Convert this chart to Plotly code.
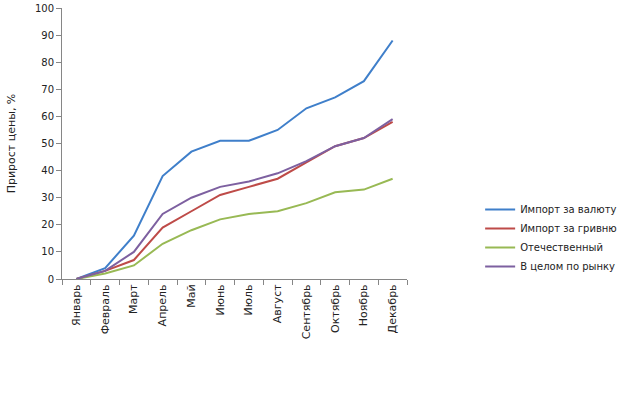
import plotly.graph_objects as go

months = ["Январь", "Февраль", "Март", "Апрель", "Май", "Июнь", "Июль",
          "Август", "Сентябрь", "Октябрь", "Ноябрь", "Декабрь"]
import_currency = [0, 4, 16, 38, 47, 51, 51, 55, 63, 67, 73, 88]
import_hryvnia = [0, 3, 7, 19, 25, 31, 34, 37, 43, 49, 52, 58]
domestic = [0, 2, 5, 13, 18, 22, 24, 25, 28, 32, 33, 37]
market_total = [0, 3, 10, 24, 30, 34, 36, 39, 43.5, 49, 52, 59]

series = [
    ("Импорт за валюту", import_currency, "#3f7fca"),
    ("Импорт за гривню", import_hryvnia, "#be4b48"),
    ("Отечественный", domestic, "#98b954"),
    ("В целом по рынку", market_total, "#7d60a0"),
]

fig = go.Figure()
for name, vals, color in series:
    fig.add_trace(go.Scatter(x=months, y=vals, name=name, mode="lines",
                             line=dict(color=color, width=2)))

axis_color = "#868686"
font_family = "DejaVu Sans, Verdana, sans-serif"
fig.update_layout(
    width=640, height=393,
    margin=dict(l=62, r=233, t=8, b=114, autoexpand=False),
    paper_bgcolor="white", plot_bgcolor="white",
    font=dict(family=font_family, size=10, color="#222"),
    showlegend=True,
    legend=dict(x=1.212, y=0.151, xanchor="left", yanchor="middle",
                font=dict(size=10, color="#222"), bgcolor="rgba(0,0,0,0)",
                tracegroupgap=0),
    xaxis=dict(type="category", tickson="boundaries", ticks="outside", ticklen=5,
               tickcolor=axis_color, showline=True, linecolor=axis_color, linewidth=1,
               showgrid=False, tickangle=-90, tickfont=dict(size=11, color="#222"),
               range=[-0.5, 11.5], automargin=False),
    yaxis=dict(range=[0, 100], dtick=10, ticks="outside", ticklen=5,
               tickcolor=axis_color, showline=True, linecolor=axis_color, linewidth=1,
               showgrid=False, zeroline=False, tickfont=dict(size=10, color="#222"),
               automargin=False,
               title=dict(text="Прирост цены, %", font=dict(size=11, color="#222"),
                          standoff=17)),
)

fig.write_html("out.html", config={"displayModeBar": False},
               post_script="document.body.style.margin='0';")
